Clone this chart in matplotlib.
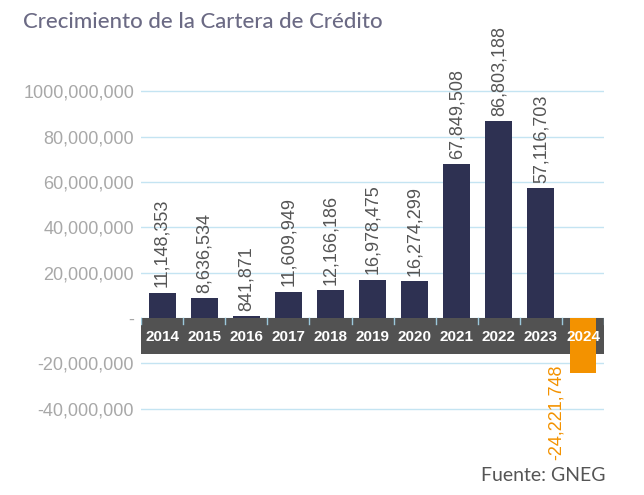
import numpy as np
import matplotlib.pyplot as plt
from matplotlib.patches import Rectangle

# datos
years = ["2014", "2015", "2016", "2017", "2018", "2019", "2020", "2021", "2022", "2023", "2024"]
growth = [11148353, 8636534, 841871, 11609949, 12166186, 16978475, 16274299,
          67849508, 86803188, 57116703, -24221748]
yticks = [-40e6, -20e6, 0, 20e6, 40e6, 60e6, 80e6, 100e6]
ytick_labels = ["-40,000,000", "-20,000,000", "-", "20,000,000", "40,000,000",
                "60,000,000", "80,000,000", "1000,000,000"]

navy = "#2e3152"
orange = "#f39200"
grid_c = "#c4e4f2"

plt.rcParams['font.family'] = ['Liberation Sans', 'DejaVu Sans']

fig = plt.figure(figsize=(6.44, 4.95), dpi=100)
ax = fig.add_axes([0.219, 0.165, 0.719, 0.660])

x = np.arange(len(years))
colors = [orange if v < 0 else navy for v in growth]

# franja gris de las etiquetas del eje x
ax.add_patch(Rectangle((-0.5, -15.9e6), len(years), 15.9e6, color="#525252", zorder=2, lw=0))

ax.bar(x, growth, width=0.64, color=colors, zorder=3)

for i, (yr, v) in enumerate(zip(years, growth)):
    ax.text(i, -8.5e6, yr, color="white", ha="center", va="center", fontsize=11,
            weight="bold", zorder=5)
    if v >= 0:
        ax.annotate(f"{v:,}", (i, v), xytext=(0, 4), textcoords="offset points",
                    rotation=90, ha="center", va="bottom", fontsize=13, color="#555555")
    else:
        ax.annotate(f"{v:,}", (i - 0.64, v), xytext=(0, 6), textcoords="offset points",
                    rotation=90, ha="center", va="top", fontsize=13, color=orange)

# marcas entre categorias
for b in np.arange(-0.5, len(years) + 0.5):
    ax.plot([b, b], [0, -2.6e6], color="#9cc9dc", lw=1, zorder=4)

ax.set_xlim(-0.5, len(years) - 0.5)
ax.set_ylim(-42e6, 102e6)
ax.set_yticks(yticks)
ax.set_yticklabels(ytick_labels, fontsize=13, color="#a8a8a8")
ax.set_xticks([])
ax.tick_params(axis="y", length=0, pad=5)
for s in ax.spines.values():
    s.set_visible(False)
ax.yaxis.grid(True, color=grid_c, lw=1)
ax.set_axisbelow(True)

fig.text(0.036, 0.955, "Crecimiento de la Cartera de Crédito", fontsize=16,
         color="#6b6a84", family=["Lato", "DejaVu Sans"], weight="medium", va="center")
fig.text(0.94, 0.022, "Fuente: GNEG", fontsize=14, color="#555555",
         family=["Lato", "DejaVu Sans"], ha="right", va="bottom")

fig.savefig("out.png", dpi=100)
